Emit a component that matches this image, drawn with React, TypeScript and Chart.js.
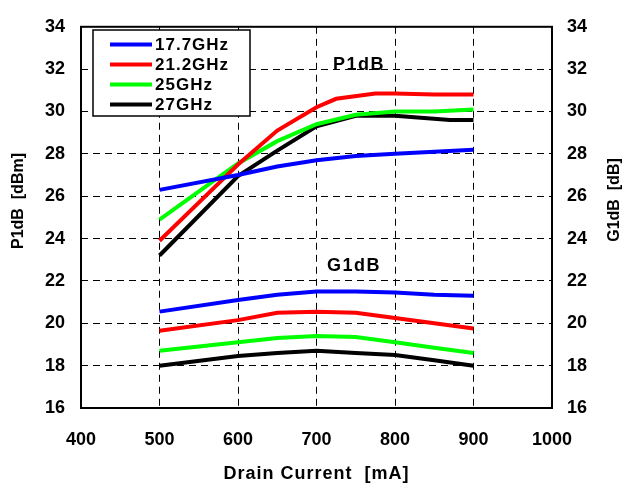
import React, { useEffect, useRef } from "react";
import { Chart, registerables } from "chart.js";
Chart.register(...registerables);

const seriesNames = ["17.7GHz", "21.2GHz", "25GHz", "27GHz"];
const seriesColors = ["#0000FF", "#FF0000", "#00FF00", "#000000"];

// P1dB (left axis)
const p1Current177 = [500, 600, 650, 700, 750, 800, 850, 900];
const p1Values177 = [26.3, 27.0, 27.4, 27.7, 27.9, 28.0, 28.1, 28.2];
const p1Current212 = [500, 550, 600, 650, 700, 725, 775, 800, 850, 900];
const p1Values212 = [23.9, 25.7, 27.5, 29.1, 30.2, 30.6, 30.85, 30.85, 30.8, 30.8];
const p1Current25 = [500, 600, 650, 700, 750, 800, 850, 900];
const p1Values25 = [24.9, 27.55, 28.6, 29.4, 29.85, 30.0, 30.0, 30.1];
const p1Current27 = [500, 600, 650, 700, 750, 800, 870, 900];
const p1Values27 = [23.2, 26.95, 28.15, 29.3, 29.8, 29.8, 29.6, 29.6];

// G1dB (right axis)
const g1Current = [500, 600, 650, 700, 750, 800, 850, 900];
const g1Values177 = [20.55, 21.1, 21.35, 21.5, 21.5, 21.45, 21.35, 21.3];
const g1Values212 = [19.65, 20.15, 20.5, 20.55, 20.5, 20.25, 20.0, 19.75];
const g1Values25 = [18.7, 19.1, 19.3, 19.4, 19.35, 19.1, 18.85, 18.6];
const g1Values27 = [18.0, 18.45, 18.6, 18.7, 18.6, 18.5, 18.25, 18.0];

const xMin = 400, xMax = 1000, xStep = 100;
const yMin = 16, yMax = 34, yStep = 2;

const FONT = "'Liberation Sans', Arial, sans-serif";

const pts = (xs: number[], ys: number[]) => xs.map((x, i) => ({ x, y: ys[i] }));

export default function App() {
  const ref = useRef<HTMLCanvasElement>(null);
  useEffect(() => {
    document.body.style.margin = "0";
    const p1Sets = [
      pts(p1Current177, p1Values177),
      pts(p1Current212, p1Values212),
      pts(p1Current25, p1Values25),
      pts(p1Current27, p1Values27),
    ];
    const g1Sets = [
      pts(g1Current, g1Values177),
      pts(g1Current, g1Values212),
      pts(g1Current, g1Values25),
      pts(g1Current, g1Values27),
    ];
    const datasets: any[] = [];
    p1Sets.forEach((d, i) =>
      datasets.push({ label: seriesNames[i], data: d, borderColor: seriesColors[i], yAxisID: "y", borderWidth: 4, pointRadius: 0, tension: 0 })
    );
    g1Sets.forEach((d, i) =>
      datasets.push({ label: seriesNames[i] + " G1dB", data: d, borderColor: seriesColors[i], yAxisID: "y2", borderWidth: 4, pointRadius: 0, tension: 0 })
    );

    const overlay = {
      id: "overlay",
      afterDraw(chart: any) {
        const ctx = chart.ctx;
        const a = chart.chartArea;
        ctx.save();
        // border
        ctx.strokeStyle = "#000";
        ctx.lineWidth = 2;
        ctx.setLineDash([]);
        ctx.strokeRect(a.left, a.top, a.right - a.left, a.bottom - a.top);
        // legend box
        const lx = 93, ly = 30, lw = 157, lh = 86;
        ctx.fillStyle = "#fff";
        ctx.fillRect(lx, ly, lw, lh);
        ctx.lineWidth = 1.5;
        ctx.strokeRect(lx, ly, lw, lh);
        ctx.font = `bold 17px ${FONT}`;
        (ctx as any).letterSpacing = "1px";
        ctx.textBaseline = "middle";
        ctx.textAlign = "left";
        seriesNames.forEach((n, i) => {
          const yy = ly + 14.5 + i * 20;
          ctx.strokeStyle = seriesColors[i];
          ctx.lineWidth = 4;
          ctx.beginPath();
          ctx.moveTo(110, yy);
          ctx.lineTo(152, yy);
          ctx.stroke();
          ctx.fillStyle = "#000";
          ctx.fillText(n, 155, yy + 1);
        });
        // annotations
        ctx.font = `bold 18px ${FONT}`;
        (ctx as any).letterSpacing = "1.5px";
        ctx.textAlign = "center";
        ctx.fillText("P1dB", 359, 65);
        ctx.fillText("G1dB", 354, 266);
        // axis titles
        ctx.font = `bold 16px ${FONT}`;
        (ctx as any).letterSpacing = "0px";
        ctx.save();
        ctx.translate(19, 201);
        ctx.rotate(-Math.PI / 2);
        ctx.fillText("P1dB  [dBm]", 0, 0);
        ctx.restore();
        ctx.save();
        ctx.translate(615, 200);
        ctx.rotate(-Math.PI / 2);
        ctx.fillText("G1dB  [dB]", 0, 0);
        ctx.restore();
        ctx.font = `bold 18px ${FONT}`;
        (ctx as any).letterSpacing = "1px";
        ctx.fillText("Drain Current  [mA]", (a.left + a.right) / 2, 474);
        ctx.restore();
      },
    };

    const gridCommon = {
      color: "#000",
      lineWidth: 1,
      drawTicks: false,
    };
    const tickFont = { family: FONT, size: 18, weight: "bold" };
    const fmt = (v: any) => String(v);

    const chart = new Chart(ref.current!, {
      type: "line",
      data: { datasets },
      plugins: [overlay],
      options: {
        animation: false,
        responsive: false,
        maintainAspectRatio: false,
        layout: { padding: { top: 19, left: 0, right: 0, bottom: 0 } },
        plugins: { legend: { display: false }, tooltip: { enabled: false } },
        scales: {
          x: {
            type: "linear",
            min: xMin,
            max: xMax,
            border: { display: false, dash: [7, 5] },
            grid: { ...gridCommon },
            ticks: { stepSize: xStep, color: "#000", font: tickFont, padding: 21, callback: fmt },
            afterFit(s: any) { s.height = 80; },
          },
          y: {
            type: "linear",
            position: "left",
            min: yMin,
            max: yMax,
            border: { display: false, dash: [7, 5] },
            grid: { ...gridCommon },
            ticks: { stepSize: yStep, color: "#000", font: tickFont, padding: 16, callback: fmt },
            afterFit(s: any) { s.width = 81; },
          },
          y2: {
            type: "linear",
            position: "right",
            min: yMin,
            max: yMax,
            border: { display: false },
            grid: { drawOnChartArea: false, drawTicks: false },
            ticks: { stepSize: yStep, color: "#000", font: tickFont, padding: 15, callback: fmt },
            afterFit(s: any) { s.width = 81; },
          },
        },
      } as any,
    });
    return () => chart.destroy();
  }, []);
  return (
    <div style={{ width: 633, height: 488 }}>
      <canvas ref={ref} width={633} height={488} style={{ display: "block" }} />
    </div>
  );
}
